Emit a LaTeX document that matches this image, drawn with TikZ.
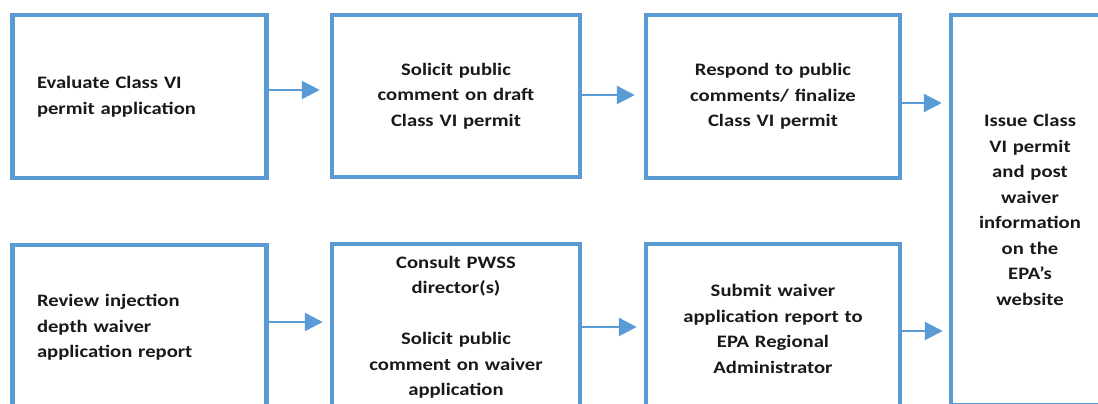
\documentclass[tikz,border=0pt]{standalone}
\usepackage{fontspec}
\setmainfont{Carlito}[FakeStretch=1.18]
\usetikzlibrary{arrows.meta}
\definecolor{boxblue}{HTML}{5B9BD5}
\tikzset{
  stepbox/.style={draw=boxblue, line width=4.5pt, fill=white, inner sep=0pt,
    font=\fontsize{17.5}{25.5}\selectfont\bfseries, text=black!90},
  flowarrow/.style={draw=boxblue, line width=2.5pt, -{Triangle[length=18pt,width=18pt]}},
}
\begin{document}
\begin{tikzpicture}[x=1pt,y=-1pt]
\clip (0,0) rectangle (1098,404);
\fill[white] (0,0) rectangle (1098,404);
% top row
\node[stepbox, minimum width=254pt, minimum height=163pt, text width=205pt, align=left]
  (b1) at (139.5,96.5) {Evaluate Class VI\\permit application};
\node[stepbox, minimum width=248pt, minimum height=162pt, text width=230pt, align=center]
  (b2) at (456,96) {Solicit public\\comment on draft\\Class VI permit};
\node[stepbox, minimum width=254pt, minimum height=163pt, text width=230pt, align=center]
  (b3) at (773,96.5) {Respond to public\\comments/ finalize\\Class VI permit};
% tall box
\node[stepbox, minimum width=158pt, minimum height=390pt, text width=145pt, align=center]
  (b4) at (1030,210) {Issue Class\\VI permit\\and post\\waiver\\information\\on the\\EPA’s\\website};
% bottom row
\node[stepbox, minimum width=254pt, minimum height=165pt, text width=205pt, align=left]
  (b5) at (139.5,327.5) {Review injection\\depth waiver\\application report};
\node[stepbox, minimum width=248pt, minimum height=166pt, text width=230pt, align=center]
  (b6) at (456,327) {Consult PWSS\\director(s)\\[25.5pt]Solicit public\\comment on waiver\\application};
\node[stepbox, minimum width=254pt, minimum height=170pt, text width=230pt, align=center]
  (b7) at (773,329) {Submit waiver\\application report to\\EPA Regional\\Administrator};
% arrows
\draw[flowarrow, shorten >=10pt] (b1.east |- 0,90) -- (b2.west |- 0,90);
\draw[flowarrow, shorten >=9pt] (b2.east |- 0,95) -- (b3.west |- 0,95);
\draw[flowarrow, shorten >=7pt] (b3.east |- 0,103) -- (b4.west |- 0,103);
\draw[flowarrow, shorten >=7pt] (b5.east |- 0,322) -- (b6.west |- 0,322);
\draw[flowarrow, shorten >=7pt] (b6.east |- 0,327) -- (b7.west |- 0,327);
\draw[flowarrow, shorten >=6pt] (b7.east |- 0,331) -- (b4.west |- 0,331);
\end{tikzpicture}
\end{document}
